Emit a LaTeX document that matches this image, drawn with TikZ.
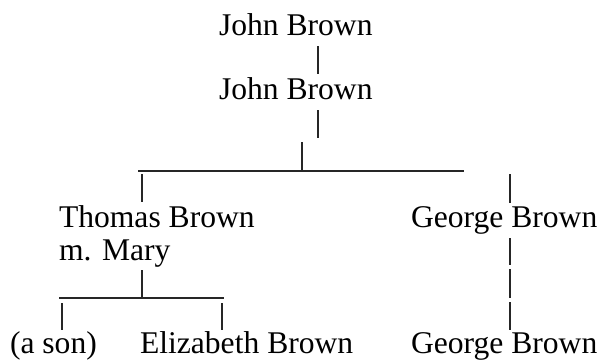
\documentclass[tikz,border=0pt]{standalone}
\usepackage{fontspec}
\setmainfont{Liberation Serif}
\begin{document}
\begin{tikzpicture}[x=1pt,y=-1pt,
  person/.style={anchor=base west,inner sep=0pt,outer sep=0pt,font=\fontsize{31.6}{32.4}\selectfont},
  bar/.style={line width=1.3pt,line cap=butt,black!85}]
\useasboundingbox (0,0) rectangle (603,360);
% people
\node[person] (jb1) at (219,35) {John Brown};
\node[person] (jb2) at (219,99) {John Brown};
\node[person] (tb) at (59,227) {Thomas Brown};
\node[person] (mm) at (59,260) {m. Mary};
\node[person] (gb1) at (411,227) {George Brown};
\node[person] (son) at (10,353) {(a son)};
\node[person] (eb) at (140,353) {Elizabeth Brown};
\node[person] (gb2) at (411,353) {George Brown};
% connector points
\coordinate (a1) at (318,46);  \coordinate (a2) at (318,74);
\coordinate (b1) at (318,110); \coordinate (b2) at (318,138);
\coordinate (c1) at (302,142); \coordinate (c2) at (302,171);
\coordinate (h1) at (138,171); \coordinate (h2) at (464,171);
\coordinate (l1) at (142,174); \coordinate (l2) at (142,202);
\coordinate (r1) at (510,174); \coordinate (r2) at (510,203);
\coordinate (m1) at (142,270); \coordinate (m2) at (142,298);
\coordinate (k1) at (59,298);  \coordinate (k2) at (224,298);
\coordinate (s1) at (62,303);  \coordinate (s2) at (62,330);
\coordinate (e1) at (222,303); \coordinate (e2) at (222,330);
\coordinate (g1) at (510,238); \coordinate (g2) at (510,265);
\coordinate (g3) at (510,269); \coordinate (g4) at (510,298);
\coordinate (g5) at (510,302); \coordinate (g6) at (510,330);
% connectors
\draw[bar] (a1) -- (a2);
\draw[bar] (b1) -- (b2);
\draw[bar] (c1) -- (c2);
\draw[bar] (h1) -- (h2);
\draw[bar] (l1) -- (l2);
\draw[bar] (r1) -- (r2);
\draw[bar] (m1) -- (m2);
\draw[bar] (k1) -- (k2);
\draw[bar] (s1) -- (s2);
\draw[bar] (e1) -- (e2);
\draw[bar] (g1) -- (g2);
\draw[bar] (g3) -- (g4);
\draw[bar] (g5) -- (g6);
\end{tikzpicture}
\end{document}
